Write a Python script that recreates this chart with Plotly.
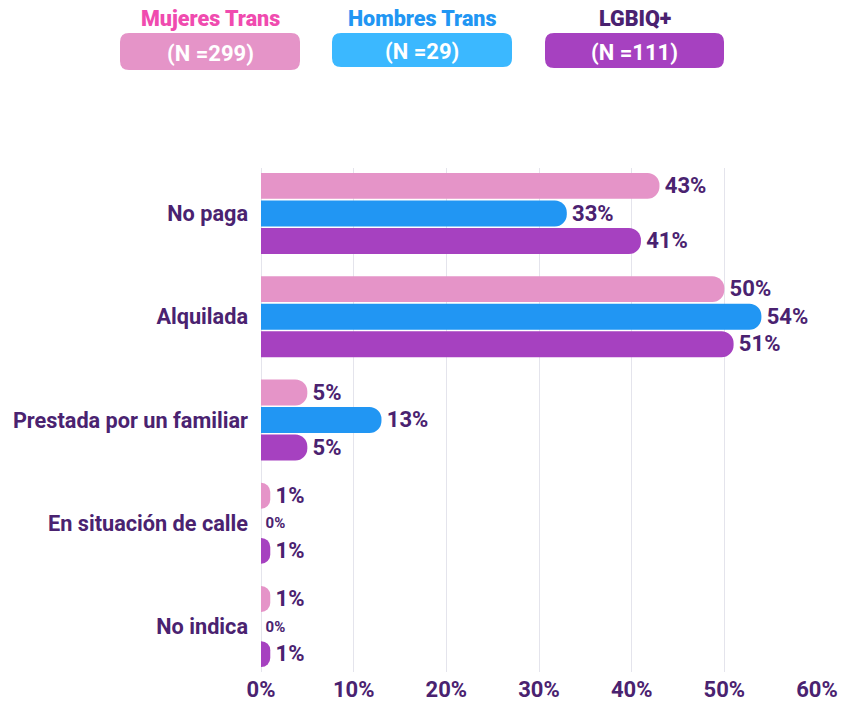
import plotly.graph_objects as go

categories = ["No paga", "Alquilada", "Prestada por un familiar", "En situación de calle", "No indica"]
mujeres_trans = [43, 50, 5, 1, 1]
hombres_trans = [33, 54, 13, 0, 0]
lgbiq = [41, 51, 5, 1, 1]
series_names = ["Mujeres Trans", "Hombres Trans", "LGBIQ+"]
series_n = ["(N =299)", "(N =29)", "(N =111)"]
x_ticks = [0, 10, 20, 30, 40, 50, 60]
x_tick_labels = ["0%", "10%", "20%", "30%", "40%", "50%", "60%"]

bar_colors = ["#E594C8", "#2196F3", "#A641C0"]
title_colors = ["#F04BAF", "#2196F3", "#4A2270"]
box_colors = ["#E594C8", "#3BB8FF", "#A641C0"]
DARK = "#4A2270"
FONT = "Roboto"

W, H = 841, 701
ML, MR, MT, MB = 261, 24, 168, 29
PW, PH = W - ML - MR, H - MT - MB

fig = go.Figure()
for name, vals, col in zip(series_names, [mujeres_trans, hombres_trans, lgbiq], bar_colors):
    fig.add_trace(go.Bar(
        y=categories, x=vals, orientation="h", name=name,
        marker=dict(color=col, line=dict(width=0)),
        text=[f"\u200a{v}%" for v in vals], textposition="outside",
        outsidetextfont=dict(family=FONT, color=DARK, size=[15 if v == 0 else 23 for v in vals], weight=700),
        cliponaxis=False, showlegend=False, hoverinfo="skip",
    ))


def px2x(px):
    return (px - ML) / PW


def py2y(py):
    return (H - MB - py) / PH


def rrect(x0, y0, x1, y1, r):
    rx = r / PW
    ry = r / PH
    X0, X1 = px2x(x0), px2x(x1)
    Y0, Y1 = py2y(y1), py2y(y0)
    return (f"M {X0+rx},{Y0} L {X1-rx},{Y0} Q {X1},{Y0} {X1},{Y0+ry} "
            f"L {X1},{Y1-ry} Q {X1},{Y1} {X1-rx},{Y1} L {X0+rx},{Y1} "
            f"Q {X0},{Y1} {X0},{Y1-ry} L {X0},{Y0+ry} Q {X0},{Y0} {X0+rx},{Y0} Z")


boxes = [(120, 33, 300, 70), (332, 33, 512, 67), (545, 33, 724, 68)]
shapes = []
annotations = []
for (x0, y0, x1, y1), bc, tc, nm, nn in zip(boxes, box_colors, title_colors, series_names, series_n):
    shapes.append(dict(type="path", xref="paper", yref="paper", path=rrect(x0, y0, x1, y1, 9),
                       fillcolor=bc, line=dict(width=0), layer="above"))
    cx = px2x((x0 + x1) / 2)
    annotations.append(dict(xref="paper", yref="paper", x=cx, y=py2y(18.5), text=nm, showarrow=False,
                            xanchor="center", yanchor="middle",
                            font=dict(family=FONT, size=21.5, color=tc, weight=900)))
    annotations.append(dict(xref="paper", yref="paper", x=cx, y=py2y((y0 + y1) / 2 + 2), text=nn, showarrow=False,
                            xanchor="center", yanchor="middle",
                            font=dict(family=FONT, size=22, color="white", weight=700)))

fig.update_layout(
    width=W, height=H,
    margin=dict(l=ML, r=MR, t=MT, b=MB, pad=0),
    paper_bgcolor="white", plot_bgcolor="white",
    barmode="group", bargap=0.2, bargroupgap=0.06, barcornerradius=12,
    font=dict(family=FONT, color=DARK),
    xaxis=dict(range=[0, 60], tickvals=x_ticks, ticktext=x_tick_labels, showgrid=True, automargin=False,
               gridcolor="#E4E4EC", gridwidth=1, zeroline=True, zerolinecolor="#E4E4EC", zerolinewidth=1,
               showline=False, ticks="", ticklabelstandoff=2,
               tickfont=dict(family=FONT, size=22, color=DARK, weight=700)),
    yaxis=dict(range=[4.44, -0.44], showgrid=False, zeroline=False, showline=False, ticks="", automargin=False,
               ticklabelstandoff=12,
               tickfont=dict(family=FONT, size=21.7, color=DARK, weight=700)),
    shapes=shapes, annotations=annotations,
)

fig.write_html("out.html", config={"displayModeBar": False},
               post_script="document.body.style.margin='0';document.body.style.overflow='hidden';")
